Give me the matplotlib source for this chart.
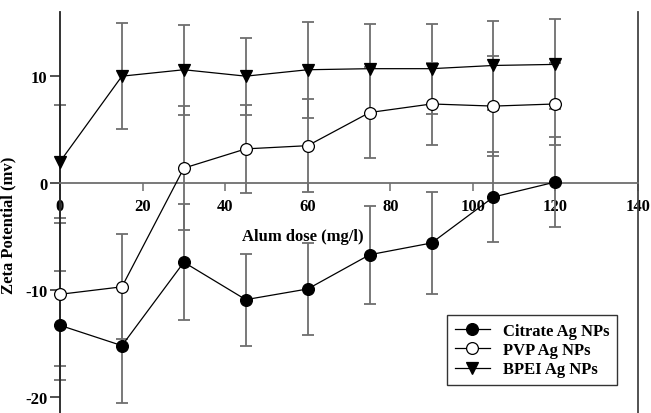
import numpy as np
import matplotlib
matplotlib.use("Agg")
import matplotlib.pyplot as plt

# dosis de alumbre (mg/l)
dosis = [0, 15, 30, 45, 60, 75, 90, 105, 120]

citrato = [-13.3, -15.2, -7.4, -10.9, -9.9, -6.7, -5.6, -1.3, 0.1]
citrato_err = [5.1, 5.4, 5.4, 4.3, 4.3, 4.6, 4.8, 4.2, 4.2]

pvp = [-10.4, -9.7, 1.4, 3.2, 3.5, 6.6, 7.4, 7.2, 7.4]
pvp_err = [6.7, 4.9, 5.8, 4.1, 4.35, 4.3, 3.8, 4.7, 3.8]

bpei = [2.0, 10.0, 10.6, 10.0, 10.6, 10.7, 10.7, 11.0, 11.1]
bpei_err = [5.3, 4.95, 4.2, 3.6, 4.5, 4.2, 4.2, 4.2, 4.2]

xticks = [0, 20, 40, 60, 80, 100, 120, 140]
yticks = [-20, -10, 0, 10]

plt.rcParams['font.family'] = ['Liberation Serif', 'DejaVu Serif']
plt.rcParams['font.weight'] = 'bold'
plt.rcParams['axes.unicode_minus'] = False

fig = plt.figure(figsize=(6.51, 4.14), dpi=100)
ax = fig.add_axes([60 / 651, 0, 578 / 651, 401 / 414])

gris = '#6e6e6e'
series = [
    (citrato, citrato_err, 'o', 'black', 'Citrate Ag NPs'),
    (pvp, pvp_err, 'o', 'white', 'PVP Ag NPs'),
    (bpei, bpei_err, 'v', 'black', 'BPEI Ag NPs'),
]
for valores, errores, marcador, relleno, etiqueta in series:
    ax.errorbar(dosis, valores, yerr=errores, fmt='none', ecolor=gris,
                elinewidth=1.3, capsize=4, capthick=1.3, zorder=2, clip_on=False)
    ax.plot(dosis, valores, color='black', lw=0.9, marker=marcador, ms=8.5,
            mfc=relleno, mec='black', mew=0.9, label=etiqueta, zorder=3, clip_on=False)

ax.set_xlim(0, 140)
ax.set_ylim(-21.5, 16)

ax.spines['top'].set_visible(False)
ax.spines['bottom'].set_position(('data', 0))
ax.spines['bottom'].set_color(gris)
ax.spines['right'].set_color('#444444')
ax.spines['left'].set_color('#222222')
for s in ['bottom', 'left', 'right']:
    ax.spines[s].set_linewidth(1.3)

ax.set_xticks(xticks)
ax.set_yticks(yticks)
ax.tick_params(axis='x', direction='out', length=6, width=1.1, color=gris,
               labelsize=12, pad=5)
ax.tick_params(axis='y', direction='out', length=7, width=1.1, color='#222222',
               labelsize=12, pad=2)
for lbl in ax.get_xticklabels() + ax.get_yticklabels():
    lbl.set_fontweight('bold')

ax.set_xlabel('Alum dose (mg/l)', fontsize=12, fontweight='bold')
ax.xaxis.set_label_coords((303 - 60) / 578, (414 - 229) / 401)
ax.set_ylabel('Zeta Potential (mv)', fontsize=12, fontweight='bold')
ax.yaxis.set_label_coords(-0.076, 0.47)

leg = ax.legend(loc='lower right', bbox_to_anchor=(0.964, 0.07), borderaxespad=0,
                fancybox=False, edgecolor='#333333', framealpha=1,
                prop={'size': 12, 'weight': 'bold'}, handlelength=2.1,
                handletextpad=0.8, labelspacing=0.2, borderpad=0.45)
leg.get_frame().set_linewidth(1.0)

fig.savefig('out.png', dpi=100)
